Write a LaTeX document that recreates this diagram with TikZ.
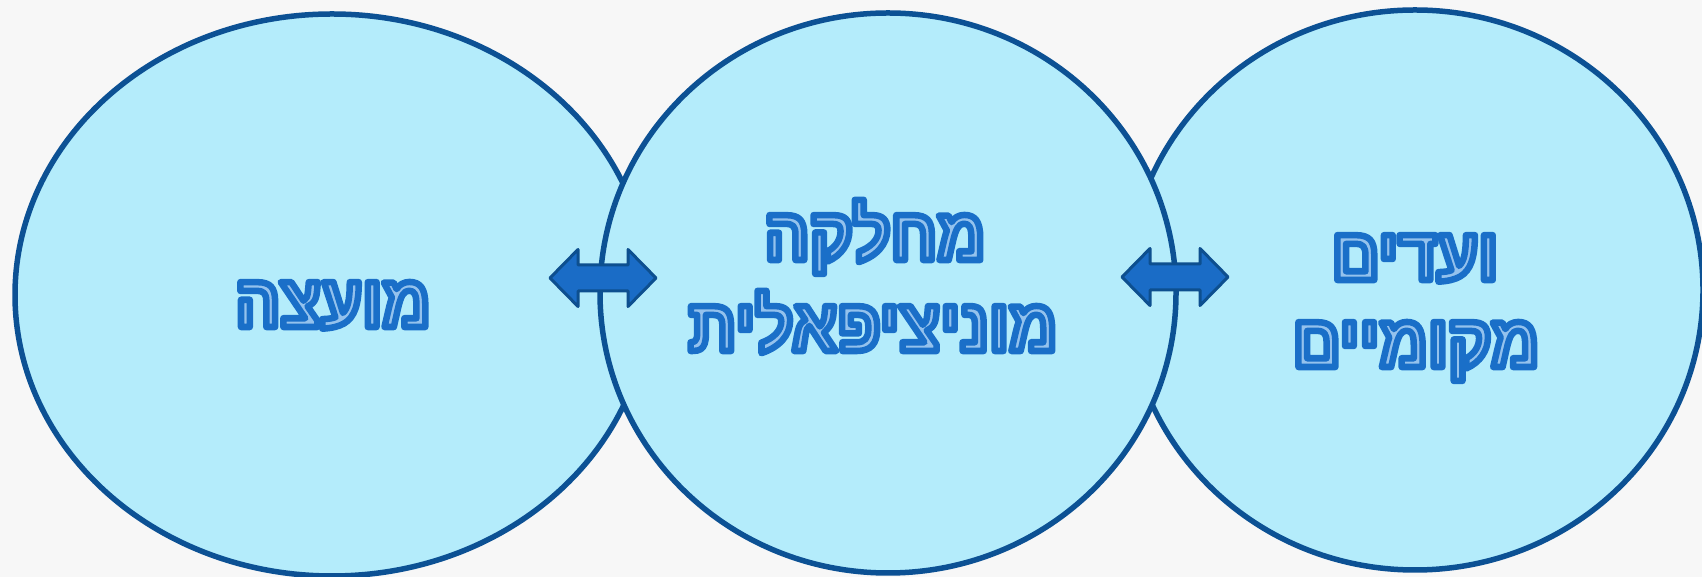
\documentclass[tikz,border=0pt]{standalone}
\usepackage{fontspec}
\usetikzlibrary{shapes.geometric}
\TeXXeTstate=1
\newfontfamily\hebfont[Script=Hebrew, FakeStretch=0.9]{Liberation Sans}
\definecolor{bgc}{HTML}{F7F7F7}
\definecolor{ellfill}{HTML}{B4ECFB}
\definecolor{elldraw}{HTML}{0C5194}
\definecolor{arrfill}{HTML}{1A6CC6}
\definecolor{arrdraw}{HTML}{0D4F8F}
\definecolor{txtblue}{HTML}{1A6FC8}
\tikzset{
  bubble/.style={ellipse, fill=ellfill, draw=elldraw, line width=5.5pt, inner sep=0pt},
  arrowshape/.style={fill=arrfill, draw=arrdraw, line width=3pt, line join=round},
  lbl/.style={anchor=base, text=txtblue, inner sep=0pt,
    font=\hebfont\bfseries\fontsize{74}{88}\selectfont},
  dblarrow/.pic={\draw[arrowshape] (-53,0) -- (-25,28.5) -- (-25,13) -- (25,13) -- (25,28.5) -- (53,0)
     -- (25,-28.5) -- (25,-13) -- (-25,-13) -- (-25,-28.5) -- cycle;}
}
% outlined letters: blue stroke, light fill
\newcommand{\hebtxt}[1]{\special{pdf:literal direct 2 Tr 6.5 w 1 j 0.102 0.435 0.784 RG 0.58 0.76 0.93 rg}\beginR #1\endR\special{pdf:literal direct 0 Tr}}
\begin{document}
\begin{tikzpicture}[x=1pt,y=1pt]
\fill[bgc] (0,0) rectangle (1702,577);
\useasboundingbox (0,0) rectangle (1702,577);
\node[bubble, minimum width=634pt, minimum height=562pt] (left) at (332,282) {};
\node[bubble, minimum width=576pt, minimum height=560pt] (right) at (1415,287) {};
\node[bubble, minimum width=576pt, minimum height=560pt] (mid) at (888,284) {};
\pic at (603,299) {dblarrow};
\pic at (1175,300) {dblarrow};
\node[lbl] (t1) at (333,250) {\hebtxt{מועצה}};
\node[lbl] (t2a) at (875,317) {\hebtxt{מחלקה}};
\node[lbl] (t2b) at (873,226) {\hebtxt{מוניציפאלית}};
\node[lbl] (t3a) at (1415,297) {\hebtxt{ועדים}};
\node[lbl] (t3b) at (1416,210) {\hebtxt{מקומיים}};
\end{tikzpicture}
\end{document}
